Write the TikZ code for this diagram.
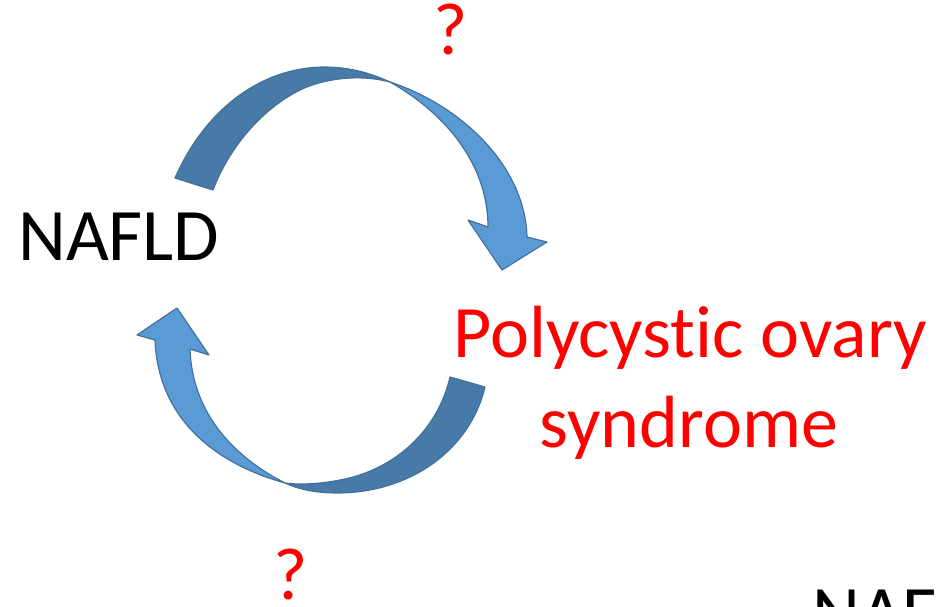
\documentclass[tikz,border=0pt]{standalone}
\usepackage{fontspec}
\setmainfont[Ligatures=NoCommon]{Carlito}
\definecolor{arrowdark}{RGB}{72,122,168}
\definecolor{arrowlight}{RGB}{91,155,213}
\definecolor{arrowline}{RGB}{65,113,156}
\definecolor{pcosred}{RGB}{255,0,0}
\begin{document}
\begin{tikzpicture}[x=1pt,y=-1pt,
  bigtext/.style={inner sep=0pt,font=\fontsize{74}{90}\selectfont},
  backband/.style={fill=arrowdark,draw=arrowline,line width=1.2pt,line join=round},
  frontband/.style={fill=arrowlight,draw=arrowline,line width=1.2pt,line join=round}]
\useasboundingbox (0,0) rectangle (938,607);
\clip (0,0) rectangle (938,607);
% top curved arrow: back (dark) part
\draw[backband] (175,178) .. controls (205,110) and (260,68) .. (323,67)
  .. controls (350,67) and (370,73) .. (390,82)
  .. controls (360,74) and (325,78) .. (300,90)
  .. controls (260,110) and (228,150) .. (213,190) -- cycle;
% top curved arrow: front (light) part with head
\draw[frontband] (390,82) .. controls (460,105) and (525,165) .. (527,237)
  -- (547,242) -- (502,270) -- (468,220) -- (488,227)
  .. controls (488,160) and (440,110) .. (390,82) -- cycle;
% bottom curved arrow: back (dark) part
\draw[backband] (485,387) .. controls (470,450) and (410,493) .. (337,493)
  .. controls (315,493) and (298,489) .. (285,483)
  .. controls (300,485) and (320,484) .. (340,480)
  .. controls (395,470) and (438,430) .. (450,377) -- cycle;
% bottom curved arrow: front (light) part with head
\draw[frontband] (285,483) .. controls (210,462) and (158,415) .. (155,340)
  -- (137,335) -- (177,308) -- (209,355) -- (190,349)
  .. controls (192,410) and (230,455) .. (285,483) -- cycle;
% labels
\node[bigtext,anchor=base west] (nafld) at (18,260) {NAFLD};
\node[bigtext,anchor=base,text=pcosred] (pcos1) at (690,357) {Polycyst\kern0pt ic ovary};
\node[bigtext,anchor=base,text=pcosred] (pcos2) at (689,447) {syndrome};
\node[bigtext,anchor=base,text=pcosred] (qtop) at (451,55) {?};
\node[bigtext,anchor=base,text=pcosred] (qbottom) at (291,599) {?};
\node[bigtext,anchor=base west] (nafcut) at (812,637) {NAF};
\end{tikzpicture}
\end{document}
